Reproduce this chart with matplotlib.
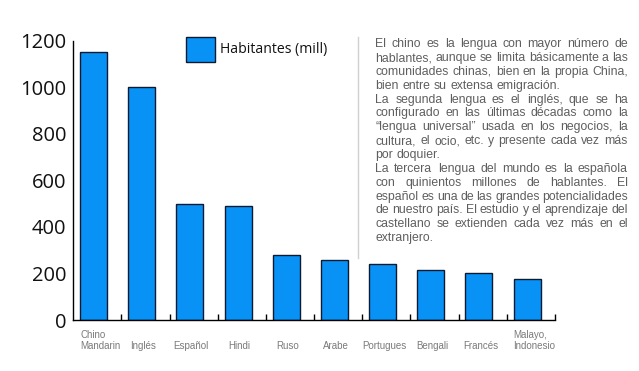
import numpy as np
import matplotlib
matplotlib.use('Agg')
import matplotlib.pyplot as plt
from matplotlib.patches import Rectangle
from matplotlib.lines import Line2D


languages = ['Chino\nMandarin', 'Inglés', 'Español', 'Hindi', 'Ruso', 'Arabe',
             'Portugues', 'Bengali', 'Francés', 'Malayo,\nIndonesio']
speakers = [1152, 1003, 500, 488, 278, 257, 240, 213, 200, 175]
y_ticks = [0, 200, 400, 600, 800, 1000, 1200]
legend_label = 'Habitantes (mill)'

paragraph_lines = [
	('El chino es la lengua con mayor número de', True),
	('hablantes, aunque se limita básicamente a las', True),
	('comunidades chinas, bien en la propia China,', True),
	('bien entre su extensa emigración.', False),
	('La segunda lengua es el inglés, que se ha', True),
	('configurado en las últimas décadas como la', True),
	('“lengua universal” usada en los negocios, la', True),
	('cultura, el ocio, etc. y presente cada vez más', True),
	('por doquier.', False),
	('La tercera lengua del mundo es la española', True),
	('con quinientos millones de hablantes. El', True),
	('español es una de las grandes potencialidades', True),
	('de nuestro país. El estudio y el aprendizaje del', True),
	('castellano se extienden cada vez más en el', True),
	('extranjero.', False),
]

BAR_COLOR = '#0892f6'
EDGE_COLOR = '#0b1a30'
W, H = 639, 371


def draw_chart(fig):
	'''Bar chart on the left side'''
	ax = fig.add_axes([73.3 / W, 1 - 320 / H, (555 - 73.3) / W, (320 - 40.7) / H])
	x = np.arange(len(speakers))
	ax.bar(x + 0.42, speakers, width=0.56, color=BAR_COLOR, edgecolor=EDGE_COLOR, linewidth=1.0)

	ax.set_xlim(0, len(speakers))
	ax.set_ylim(0, 1200)
	ax.spines['top'].set_visible(False)
	ax.spines['right'].set_visible(False)
	for side in ['left', 'bottom']:
		ax.spines[side].set_linewidth(1.0)
		ax.spines[side].set_color('black')

	ax.set_yticks(y_ticks)
	ax.set_yticklabels([str(v) for v in y_ticks], fontsize=14.5, family='Open Sans', color='#111111')
	ax.tick_params(axis='y', length=0, pad=5)
	ax.set_yticks([1200], minor=True)
	ax.tick_params(axis='y', which='minor', direction='in', length=9, width=1.0)

	ax.set_xticks(np.arange(1, len(speakers) + 1))
	ax.set_xticklabels([])
	ax.tick_params(axis='x', direction='in', length=4.5, width=1.0)

	for xi, label in zip(x, languages):
		if '\n' in label:
			xpos, ha = xi + 0.14, 'left'
		else:
			xpos, ha = xi + 0.45, 'center'
		ax.text(xpos, -0.104, label, transform=ax.get_xaxis_transform(),
		        ha=ha, va='baseline', multialignment='left', fontsize=7,
		        family='Liberation Sans', color='#7a7a7a', linespacing=1.1)

	# legend box drawn by hand so its size matches the original
	fig.add_artist(Rectangle((186 / W, 1 - 62.3 / H), 29 / W, 25.6 / H,
	                         facecolor=BAR_COLOR, edgecolor=EDGE_COLOR, linewidth=1.0,
	                         transform=fig.transFigure))
	fig.text(220.5 / W, 1 - 53.3 / H, legend_label, ha='left', va='baseline',
	         fontsize=10.1, family='Open Sans', color='#111111')
	return ax


def draw_text(fig):
	'''Justified paragraph on the right side'''
	fig.add_artist(Line2D([357.5 / W, 357.5 / W], [1 - 37 / H, 1 - 258 / H],
	                      color='#d0d0d0', linewidth=1.0))
	renderer = fig.canvas.get_renderer()
	left, right = 375.5, 628.0
	base = 47.2
	step = 13.85
	style = dict(fontsize=8.8, family='Liberation Sans', color='#5e5e5e', va='baseline', ha='left')
	for i, (line, justify) in enumerate(paragraph_lines):
		y = 1 - (base + i * step) / H
		words = line.split(' ')
		texts = [fig.text(0, y, w, **style) for w in words]
		widths = [t.get_window_extent(renderer).width for t in texts]
		if justify and len(words) > 1:
			gap = (right - left - sum(widths)) / (len(words) - 1)
		else:
			gap = 0.28 * 8.8 * 100 / 72
		xpos = left
		for t, wd in zip(texts, widths):
			t.set_x(xpos / W)
			xpos += wd + gap


def main():
	fig = plt.figure(figsize=(W / 100, H / 100), dpi=100)
	draw_chart(fig)
	draw_text(fig)
	fig.savefig('out.png', dpi=100)


if __name__ == '__main__':
	main()
